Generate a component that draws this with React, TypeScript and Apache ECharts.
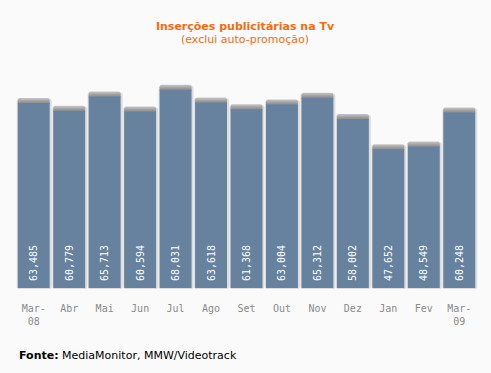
import React, { useEffect, useRef } from "react";
import * as echarts from "echarts";

const categories = ["Mar-08", "Abr", "Mai", "Jun", "Jul", "Ago", "Set", "Out", "Nov", "Dez", "Jan", "Fev", "Mar-09"];
const values = [63485, 60779, 65713, 60594, 68031, 63618, 61368, 63004, 65312, 58002, 47652, 48549, 60248];
const titleText = "Inserções publicitárias na Tv";
const subtitleText = "(exclui auto-promoção)";
const sourceLabel = "Fonte:";
const sourceText = "MediaMonitor, MMW/Videotrack";

const fmt = (v: number) => v.toLocaleString("en-US");

export default function App() {
  const ref = useRef<HTMLDivElement>(null);
  useEffect(() => {
    if (!ref.current) return;
    const chart = echarts.init(ref.current, null, { renderer: "svg" });
    chart.setOption({
      animation: false,
      backgroundColor: "#fafafa",
      title: {
        text: titleText,
        subtext: subtitleText,
        left: 240,
        textAlign: "center",
        top: 15,
        itemGap: 0,
        textStyle: { color: "#f36c12", fontSize: 11, fontWeight: "bold", fontFamily: "DejaVu Sans", lineHeight: 13 },
        subtextStyle: { color: "#f36c12", fontSize: 11, fontFamily: "DejaVu Sans", lineHeight: 13 },
      },
      grid: { left: 16, right: 14, top: 84, bottom: 85 },
      xAxis: {
        type: "category",
        data: categories,
        axisLine: { show: false },
        axisTick: { show: false },
        axisLabel: {
          color: "#8a8a8a",
          fontSize: 10,
          fontFamily: "DejaVu Sans Mono",
          margin: 14,
          lineHeight: 13,
          interval: 0,
          formatter: (s: string) => s.replace("-", "-\n"),
        },
      },
      yAxis: { type: "value", min: 0, max: 70000, show: false, splitLine: { show: false } },
      series: [
        {
          type: "custom",
          data: values.map((v, i) => [i, v]),
          renderItem: (params: any, api: any) => {
            const top = api.coord([api.value(0), api.value(1)]);
            const base = api.coord([api.value(0), 0]);
            const band = api.size([1, 0])[0];
            const w = band * 0.9;
            const x = top[0] - w / 2;
            const y = top[1];
            const h = base[1] - top[1];
            return {
              type: "group",
              children: [
                { type: "rect", shape: { x: x - 1, y: y - 4, width: w + 3, height: h + 5, r: 2 }, style: { fill: "#dcdcdc" } },
                {
                  type: "rect",
                  shape: { x: x, y: y - 5, width: w, height: 6, r: [2, 2, 0, 0] },
                  style: {
                    fill: new echarts.graphic.LinearGradient(0, 0, 0, 1, [
                      { offset: 0, color: "#c8c8c8" },
                      { offset: 0.6, color: "#9a9a9a" },
                      { offset: 1, color: "#8a8a8a" },
                    ]),
                  },
                },
                { type: "rect", shape: { x: x, y: y, width: w, height: h }, style: { fill: "#67829f" } },
                {
                  type: "text",
                  x: top[0],
                  y: base[1] - 7,
                  rotation: Math.PI / 2,
                  style: {
                    text: fmt(api.value(1)),
                    fill: "#ffffff",
                    fontSize: 10,
                    fontFamily: "DejaVu Sans Mono",
                    align: "left",
                    verticalAlign: "middle",
                  },
                },
              ],
            };
          },
        },
      ],
      graphic: [
        {
          type: "text",
          left: 19,
          top: 350,
          style: {
            text: "{b|" + sourceLabel + "} " + sourceText,
            fill: "#000",
            fontSize: 11,
            fontFamily: "DejaVu Sans",
            rich: { b: { fontWeight: "bold", fontSize: 11, fontFamily: "DejaVu Sans", fill: "#000" } },
          },
        },
      ],
    });
    return () => chart.dispose();
  }, []);
  return <div ref={ref} style={{ width: 491, height: 373, position: "absolute", left: 0, top: 0 }} />;
}
